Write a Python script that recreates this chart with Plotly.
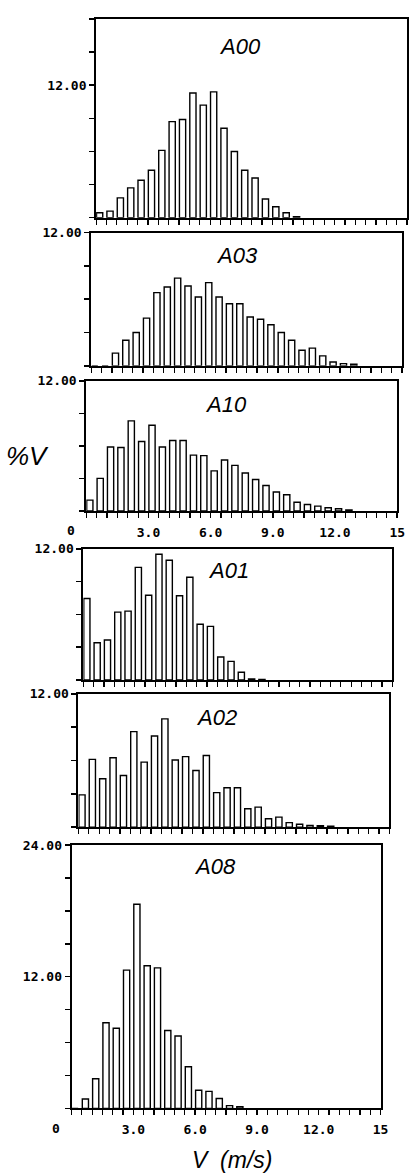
import plotly.graph_objects as go

# ---------------- data ----------------
# lower edge of each 0.5 m/s velocity bin
velocity_bins = [0.0, 0.5, 1.0, 1.5, 2.0, 2.5, 3.0, 3.5, 4.0, 4.5,
                 5.0, 5.5, 6.0, 6.5, 7.0, 7.5, 8.0, 8.5, 9.0, 9.5,
                 10.0, 10.5, 11.0, 11.5, 12.0, 12.5, 13.0, 13.5, 14.0, 14.5]

panel_names = ["A00", "A03", "A10", "A01", "A02", "A08"]

a00_pct = [0.45, 0.6, 1.8, 2.7, 3.4, 4.3, 6.1, 8.7, 8.9, 11.3,
           10.2, 11.4, 8.1, 6.0, 4.3, 3.6, 1.7, 1.0, 0.45, 0.1]
a03_pct = [0, 0, 1.15, 2.3, 3.0, 4.3, 6.6, 7.1, 7.9, 7.2,
           6.2, 7.5, 6.2, 5.6, 5.6, 4.4, 4.2, 3.7, 3.0, 2.3,
           1.4, 1.6, 0.9, 0.35, 0.2, 0.15]
a10_pct = [1.0, 3.0, 5.9, 5.85, 8.3, 6.4, 7.9, 5.9, 6.5, 6.5,
           5.15, 5.1, 3.7, 4.7, 4.2, 3.5, 2.9, 2.35, 1.75, 1.5,
           0.8, 0.6, 0.45, 0.3, 0.2, 0.1]
a01_pct = [7.45, 3.4, 3.65, 6.2, 6.3, 10.3, 7.75, 11.5, 10.95, 7.7,
           9.4, 5.1, 4.9, 2.1, 1.7, 0.7, 0.1, 0.05]
a02_pct = [2.9, 6.1, 4.35, 6.25, 4.65, 8.6, 5.85, 8.2, 9.75, 6.05,
           6.35, 5.1, 6.45, 3.1, 3.55, 3.55, 1.65, 1.8, 0.75, 0.9,
           0.4, 0.25, 0.15, 0.12, 0.08]
a08_pct = [0, 0.85, 2.7, 7.8, 7.3, 12.6, 18.6, 13.0, 12.8, 7.1,
           6.6, 3.8, 1.65, 1.55, 0.9, 0.25, 0.15]

panel_values = [a00_pct, a03_pct, a10_pct, a01_pct, a02_pct, a08_pct]
panel_ymax = [18, 12, 12, 12, 12, 24]
panel_ylabels = [{12: "12.00"}, {12: "12.00"}, {12: "12.00"},
                 {12: "12.00"}, {12: "12.00"}, {24: "24.00", 12: "12.00"}]
x_tick_vals = [0, 3, 6, 9, 12, 15]
x_tick_text = ["", "3.0", "6.0", "9.0", "12.0", "15"]
x_zero_label = "0"
x_labelled = [False, False, True, False, False, True]

# ---------------- layout (pixel boxes of the scanned panels) ----------------
W, H = 416, 1175
boxes = [  # left, right, top, bottom in px
    (98, 415, 12, 212),
    (93, 410, 227, 361),
    (88, 405, 376, 507),
    (85, 400, 545, 677),
    (80, 397, 691, 825),
    (73, 388, 843, 1108),
]
title_pos = [(245, 40), (242, 250), (230, 400), (233, 567), (221, 715), (219, 865)]

mono = dict(family="DejaVu Sans Mono", size=13, color="black", weight="bold")
title_font = dict(family="Liberation Sans", size=22, color="black")

fig = go.Figure()
layout = dict(width=W, height=H, margin=dict(l=0, r=0, t=0, b=0),
              paper_bgcolor="white", plot_bgcolor="white", showlegend=False,
              annotations=[])

for i, (name, vals) in enumerate(zip(panel_names, panel_values)):
    k = "" if i == 0 else str(i + 1)
    fig.add_trace(go.Bar(
        x=velocity_bins[:len(vals)], y=vals,
        xaxis="x" + k, yaxis="y" + k,
        width=0.3, offset=0.02,
        marker=dict(color="white", line=dict(color="black", width=1.4)),
        hoverinfo="skip"))
    l, r, t, b = boxes[i]
    ymax = panel_ymax[i]
    yvals = list(range(0, ymax + 1, 3))
    ytext = [panel_ylabels[i].get(v, "") for v in yvals]
    layout["xaxis" + k] = dict(
        domain=[l / W, r / W], anchor="y" + k, range=[0, 15],
        showline=True, mirror=True, linecolor="black", linewidth=2,
        ticks="outside", tickvals=x_tick_vals, ticktext=x_tick_text,
        ticklen=5, tickwidth=1.5, tickcolor="black",
        minor=dict(dtick=0.5, tick0=0, ticks="outside", ticklen=5,
                   tickwidth=1.2, tickcolor="black", showgrid=False),
        showticklabels=x_labelled[i], tickfont=mono, ticklabelstandoff=3,
        showgrid=False, zeroline=False, fixedrange=True)
    layout["yaxis" + k] = dict(
        domain=[1 - b / H, 1 - t / H], anchor="x" + k, range=[0, ymax],
        showline=True, mirror=True, linecolor="black", linewidth=2,
        ticks="outside", tickvals=yvals, ticktext=ytext,
        ticklen=5, tickwidth=1.5, tickcolor="black",
        tickfont=mono, showgrid=False, zeroline=False, fixedrange=True)
    tx, ty = title_pos[i]
    layout["annotations"].append(dict(
        text="<i>" + name + "</i>", x=tx / W, y=1 - ty / H,
        xref="paper", yref="paper", showarrow=False,
        xanchor="center", yanchor="middle", font=title_font))
    if x_labelled[i]:
        layout["annotations"].append(dict(
            text=x_zero_label, x=(l - 16) / W, y=1 - (b + 20) / H,
            xref="paper", yref="paper", showarrow=False,
            xanchor="center", yanchor="middle", font=mono))

layout["annotations"].append(dict(
    text="<i>%V</i>", x=28 / W, y=1 - 452 / H, xref="paper", yref="paper",
    showarrow=False, xanchor="center", yanchor="middle",
    font=dict(family="Liberation Sans", size=26, color="black")))
layout["annotations"].append(dict(
    text="<i>V  (m/s)</i>", x=237 / W, y=1 - 1160 / H, xref="paper", yref="paper",
    showarrow=False, xanchor="center", yanchor="middle",
    font=dict(family="Liberation Sans", size=23, color="black")))

fig.update_layout(**layout)
fig.write_html("out.html",
               config={"displayModeBar": False, "staticPlot": True},
               post_script="document.body.style.margin='0px';"
                           "document.documentElement.style.overflow='hidden';")
